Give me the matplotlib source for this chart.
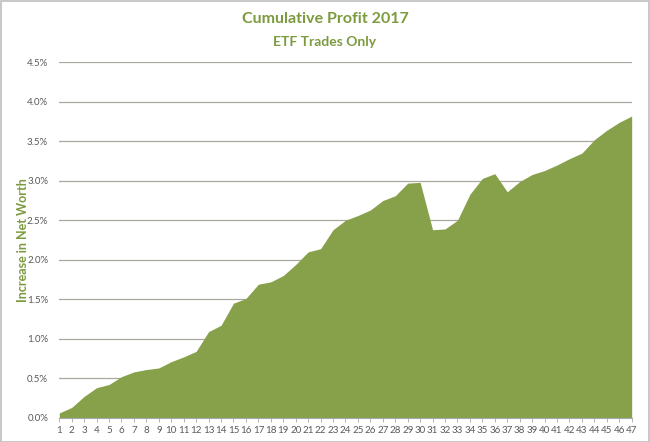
import matplotlib.pyplot as plt
from matplotlib.patches import Rectangle
from matplotlib.ticker import FuncFormatter

# trade number vs cumulative profit (%)
trades = list(range(1, 48))
profit = [0.06, 0.13, 0.27, 0.38, 0.42, 0.52, 0.58, 0.61, 0.63, 0.71,
          0.77, 0.84, 1.09, 1.17, 1.45, 1.51, 1.69, 1.72, 1.80, 1.94,
          2.10, 2.14, 2.38, 2.50, 2.56, 2.63, 2.75, 2.81, 2.97, 2.98,
          2.38, 2.39, 2.50, 2.83, 3.03, 3.09, 2.86, 2.99, 3.08, 3.13,
          3.20, 3.28, 3.35, 3.52, 3.64, 3.74, 3.82]
yticks = [0, 0.5, 1.0, 1.5, 2.0, 2.5, 3.0, 3.5, 4.0, 4.5]

green = '#87A14B'
title_green = '#7C9A3E'
grey = '#595959'

plt.rcParams['font.family'] = ['Lato', 'DejaVu Sans']

fig = plt.figure(figsize=(6.5, 4.42), dpi=100)
ax = fig.add_axes([0.0912, 0.055, 0.8806, 0.804])

ax.fill_between(trades, profit, 0, color=green, lw=0, zorder=2)

ax.set_xlim(1, 47)
ax.set_ylim(0, 4.5)
ax.set_yticks(yticks)
ax.yaxis.set_major_formatter(FuncFormatter(lambda v, p: '%.1f%%' % v))
ax.set_xticks(trades)
ax.grid(axis='y', color='#A8A8A0', lw=0.9, zorder=1)
ax.set_axisbelow(True)

for s in ['top', 'right', 'left']:
    ax.spines[s].set_visible(False)
ax.spines['bottom'].set_color('#A8A8A8')
ax.spines['bottom'].set_linewidth(0.8)
ax.tick_params(axis='y', length=0, labelsize=7, colors=grey, pad=8)
ax.tick_params(axis='x', length=3, width=0.6, color='#A8A8A8', labelsize=7, labelcolor=grey, pad=3)

ax.set_ylabel('Increase in Net Worth', color=title_green, fontsize=9, fontweight='bold')
ax.yaxis.set_label_coords(-0.053, 0.5)

fig.text(0.5, 0.958, 'Cumulative Profit 2017', ha='center', va='center',
         fontsize=11.5, fontweight='bold', color=title_green)
fig.text(0.5, 0.905, 'ETF Trades Only', ha='center', va='center',
         fontsize=10, fontweight='bold', color=title_green)

fig.patches.append(Rectangle((0.001, 0.001), 0.997, 0.997, transform=fig.transFigure,
                             fill=False, edgecolor='#BFBFBF', lw=1.2))

fig.savefig('out.png', dpi=100)
